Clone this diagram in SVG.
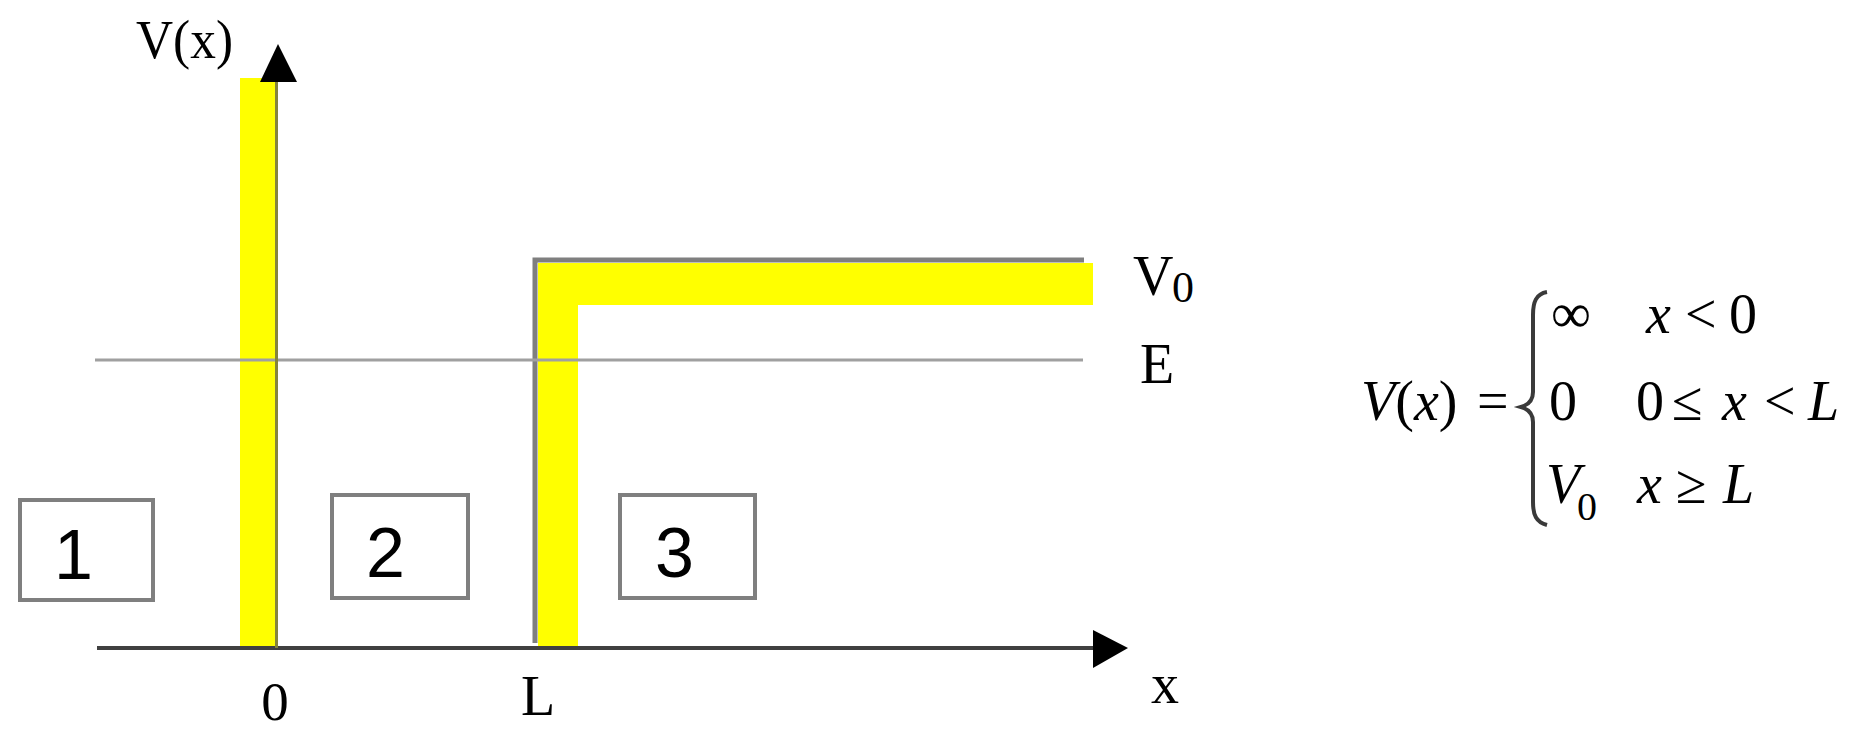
<svg xmlns="http://www.w3.org/2000/svg" width="1854" height="729" viewBox="0 0 1854 729">
<style>
.serif{font-family:"Liberation Serif","Times New Roman",serif;fill:#000}
.sans{font-family:"Liberation Sans",Arial,sans-serif;fill:#000}
.box{fill:none;stroke:#7f7f7f;stroke-width:4}
.it{font-style:italic}
</style>
<rect width="1854" height="729" fill="#fff"/>
<g id="potential">
  <rect x="240" y="78" width="35" height="570" fill="#ffff00"/>
  <polygon points="538,648 538,263 1093,263 1093,305 578,305 578,648" fill="#ffff00"/>
  <path d="M535,643 V260 H1084" fill="none" stroke="#7f7f7f" stroke-width="5"/>
</g>
<g id="connectors">
  <line x1="95" y1="360" x2="1083" y2="360" stroke="#a0a0a0" stroke-width="3"/>
  <line x1="97" y1="648" x2="1095" y2="648" stroke="#404040" stroke-width="4"/>
  <polygon points="1093,630 1128,648 1093,668" fill="#000"/>
  <line x1="276.5" y1="80" x2="276.5" y2="648" stroke="#84843c" stroke-width="3"/>
  <polygon points="278,44 297,82 260,82" fill="#000"/>
</g>
<g id="axis-labels">
  <text class="serif" x="136" y="58" font-size="54" textLength="97" lengthAdjust="spacingAndGlyphs">V(x)</text>
  <text class="serif" x="275" y="720" font-size="55" text-anchor="middle">0</text>
  <text class="serif" x="521" y="715" font-size="56">L</text>
  <text class="serif" x="1151" y="703" font-size="56">x</text>
  <text class="serif" x="1133" y="295" font-size="56">V</text>
  <text class="serif" x="1172" y="302" font-size="44">0</text>
  <text class="serif" x="1140" y="383" font-size="56">E</text>
</g>
<g id="region1">
  <rect class="box" x="20" y="500" width="133" height="100"/>
  <text class="sans" x="54" y="579" font-size="70">1</text>
</g>
<g id="region2">
  <rect class="box" x="332" y="495" width="136" height="103"/>
  <text class="sans" x="366" y="577" font-size="70">2</text>
</g>
<g id="region3">
  <rect class="box" x="620" y="495" width="135" height="103"/>
  <text class="sans" x="655" y="577" font-size="70">3</text>
</g>
<g id="formula" class="serif" font-size="56">
  <text x="1361" y="420"><tspan class="it">V</tspan>(<tspan class="it">x</tspan>)</text>
  <text x="1477" y="420">=</text>
  <path d="M1547,292 C1536,294 1533,302 1533,315 V392 C1533,400 1528,405 1521,407 C1528,409 1533,414 1533,422 V502 C1533,515 1536,522 1547,525" fill="none" stroke="#3a3a3a" stroke-width="4"/>
  <text x="1551" y="332">∞</text>
  <text x="1646" y="333" class="it">x</text>
  <text x="1685" y="333">&lt;</text>
  <text x="1729" y="333">0</text>
  <text x="1549" y="420">0</text>
  <text x="1636" y="420">0</text>
  <text x="1672" y="420">≤</text>
  <text x="1722" y="420" class="it">x</text>
  <text x="1764" y="420">&lt;</text>
  <text x="1808" y="420" class="it">L</text>
  <text x="1546" y="503" class="it">V</text>
  <text x="1577" y="520" font-size="40">0</text>
  <text x="1637" y="503" class="it">x</text>
  <text x="1676" y="503">≥</text>
  <text x="1723" y="503" class="it">L</text>
</g>
</svg>
